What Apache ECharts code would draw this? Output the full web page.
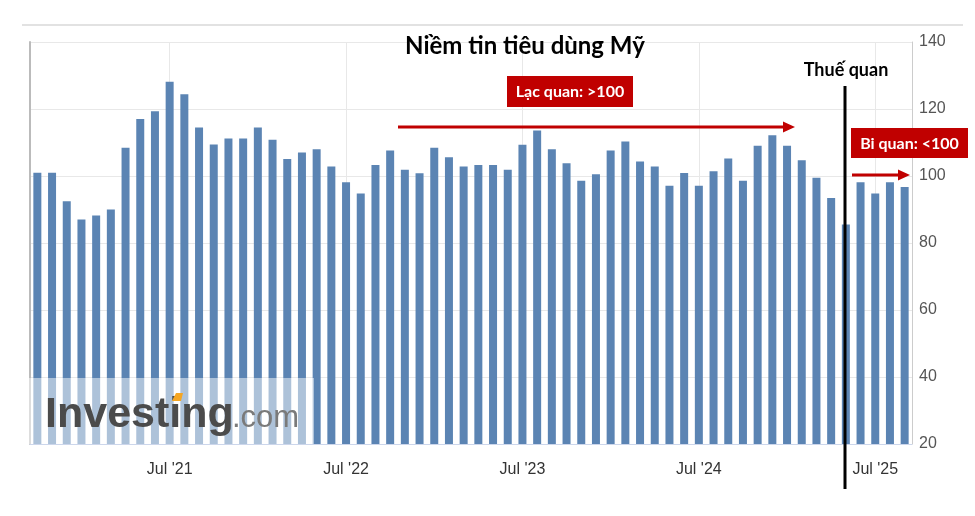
<!DOCTYPE html>
<html><head><meta charset="utf-8">
<script src="https://cdn.jsdelivr.net/npm/echarts@6/dist/echarts.min.js"></script>
<style>html,body{margin:0;padding:0;background:#fff}#c{width:975px;height:516px}</style>
</head><body><div id="c"></div>
<script>
const categories = [
  "Oct '20","Nov '20","Dec '20",
  "Jan '21","Feb '21","Mar '21","Apr '21","May '21","Jun '21","Jul '21","Aug '21","Sep '21","Oct '21","Nov '21","Dec '21",
  "Jan '22","Feb '22","Mar '22","Apr '22","May '22","Jun '22","Jul '22","Aug '22","Sep '22","Oct '22","Nov '22","Dec '22",
  "Jan '23","Feb '23","Mar '23","Apr '23","May '23","Jun '23","Jul '23","Aug '23","Sep '23","Oct '23","Nov '23","Dec '23",
  "Jan '24","Feb '24","Mar '24","Apr '24","May '24","Jun '24","Jul '24","Aug '24","Sep '24","Oct '24","Nov '24","Dec '24",
  "Jan '25","Feb '25","Mar '25","Apr '25","May '25","Jun '25","Jul '25","Aug '25","Sep '25"
];
const confidence = [
  101, 101, 92.5, 87, 88.2, 90, 108.4, 117, 119.3, 128.1, 124.4, 114.5,
  109.4, 111.2, 111.2, 114.5, 110.8, 105.1, 107, 108, 102.8, 98.1, 94.8,
  103.3, 107.6, 101.9, 100.8, 108.4, 105.6, 102.8, 103.3, 103.3, 101.9,
  109.3, 113.6, 108, 103.8, 98.6, 100.5, 107.6, 110.3, 104.3, 102.8, 97.1,
  100.9, 97.1, 101.4, 105.2, 98.6, 109, 112.2, 109, 104.7, 99.5, 93.4,
  85.5, 98.1, 94.8, 98.1, 96.7
];
const yMin = 20, yMax = 140, yStep = 20;
const titleText = 'Niềm tin tiêu dùng Mỹ';
const tariffText = 'Thuế quan';
const optimistText = 'Lạc quan: >100';
const pessimistText = 'Bi quan: <100';
const tickMonth = 'Jul';

const julyCats = categories.filter(c => c.startsWith(tickMonth));
const chart = echarts.init(document.getElementById('c'), null, {renderer: 'canvas'});
const RED = '#c00000';
const Z = 100;
chart.setOption({
  animation: false,
  backgroundColor: '#fff',
  grid: {left: 30, right: 63, top: 42, bottom: 72, containLabel: false},
  xAxis: {
    type: 'category', data: categories, boundaryGap: true,
    axisLine: {show: true, lineStyle: {color: '#ccd6eb', width: 1}},
    axisTick: {show: false},
    splitLine: {show: false},
    axisLabel: {
      interval: (i, v) => v.startsWith(tickMonth),
      color: '#333', fontSize: 16, margin: 18,
      fontFamily: 'Liberation Sans, Arial, sans-serif'
    }
  },
  yAxis: [{
    type: 'value', position: 'right', min: yMin, max: yMax, interval: yStep,
    axisLine: {show: true, lineStyle: {color: '#cccccc', width: 1}},
    axisTick: {show: false},
    splitLine: {show: true, lineStyle: {color: '#e8e8e8', width: 1}},
    axisLabel: {color: '#555', fontSize: 16, margin: 7, fontFamily: 'Liberation Sans, Arial, sans-serif'}
  }, {
    type: 'value', position: 'left', min: yMin, max: yMax, interval: yStep,
    axisLine: {show: true, lineStyle: {color: '#bbbbbb', width: 2}},
    axisTick: {show: false}, axisLabel: {show: false}, splitLine: {show: false}
  }],
  series: [{
    type: 'line', data: [], z: 1, silent: true,
    markLine: {
      z: 1, silent: true, symbol: ['none', 'none'], label: {show: false},
      lineStyle: {color: '#e8e8e8', width: 1, type: 'solid'},
      data: julyCats.map(c => ({xAxis: c}))
    }
  }, {
    type: 'bar', data: confidence, barWidth: 8, z: 3,
    itemStyle: {color: '#5b84b3'}
  }],
  graphic: [
    {type: 'line', z: Z, silent: true, shape: {x1: 22, y1: 25, x2: 963, y2: 25}, style: {stroke: '#d9d9d9', lineWidth: 1.5}},
    {type: 'text', z: Z, x: 525, y: 46, style: {text: titleText, fill: '#000', font: 'bold 24px Lato, "Open Sans", sans-serif', align: 'center', verticalAlign: 'middle'}},
    {type: 'text', z: Z, x: 846, y: 70, style: {text: tariffText, fill: '#000', font: 'bold 18px Lato, "Open Sans", sans-serif', align: 'center', verticalAlign: 'middle'}},
    {type: 'line', z: Z, shape: {x1: 845, y1: 86, x2: 845, y2: 489}, style: {stroke: '#000', lineWidth: 3}},
    {type: 'rect', z: Z, shape: {x: 507, y: 76, width: 126, height: 31}, style: {fill: RED}},
    {type: 'text', z: Z + 1, x: 570, y: 92, style: {text: optimistText, fill: '#fff', font: 'bold 16px Lato, "Open Sans", sans-serif', align: 'center', verticalAlign: 'middle'}},
    {type: 'line', z: Z, shape: {x1: 398, y1: 127, x2: 785, y2: 127}, style: {stroke: RED, lineWidth: 3}},
    {type: 'polygon', z: Z, shape: {points: [[783, 121.5], [795, 127], [783, 132.5]]}, style: {fill: RED}},
    {type: 'rect', z: Z, shape: {x: 851, y: 128, width: 117, height: 30}, style: {fill: RED}},
    {type: 'text', z: Z + 1, x: 909.5, y: 143.5, style: {text: pessimistText, fill: '#fff', font: 'bold 16px Lato, "Open Sans", sans-serif', align: 'center', verticalAlign: 'middle'}},
    {type: 'line', z: Z, shape: {x1: 852, y1: 175, x2: 900, y2: 175}, style: {stroke: RED, lineWidth: 3}},
    {type: 'polygon', z: Z, shape: {points: [[898, 169.5], [910, 175], [898, 180.5]]}, style: {fill: RED}},
    {type: 'rect', z: Z - 10, silent: true, shape: {x: 29, y: 378, width: 285, height: 66}, style: {fill: 'rgba(255,255,255,0.5)'}},
    {type: 'text', z: Z - 5, x: 45, y: 437, style: {text: 'Investing', fill: '#4b4b4b', font: 'bold 43px "Liberation Sans", Arial, sans-serif', align: 'left', verticalAlign: 'bottom'}},
    {type: 'polygon', z: Z - 4, shape: {points: [[172, 401], [176, 393], [183, 393], [181, 401]]}, style: {fill: '#f5a623'}},
    {type: 'text', z: Z - 5, x: 232, y: 434, style: {text: '.com', fill: '#7a7a7a', font: '31px "Liberation Sans", Arial, sans-serif', align: 'left', verticalAlign: 'bottom'}}
  ]
});
</script></body></html>
